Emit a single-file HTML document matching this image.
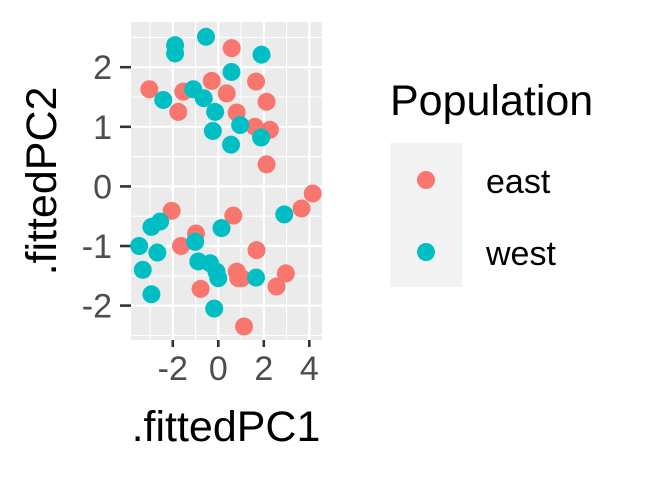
<!DOCTYPE html>
<html><head><meta charset="utf-8"><style>
body{margin:0;background:#fff}
svg text{font-family:"Liberation Sans",sans-serif}
</style></head><body>
<svg id="chart" width="648" height="476">
<rect x="131" y="22" width="191" height="318" fill="#ebebeb"/>
<g id="grid"></g><g id="axes"></g><g id="pts"></g>
<text x="226" y="441" text-anchor="middle" font-size="43" fill="#000">.fittedPC1</text>
<text transform="translate(56,181) rotate(-90)" text-anchor="middle" font-size="43" fill="#000">.fittedPC2</text>
<g>
<text x="390" y="115" font-size="43">Population</text>
<rect x="390" y="143" width="72" height="144" fill="#f2f2f2"/>
<circle cx="426" cy="180" r="9" fill="#F8766D"/>
<circle cx="426" cy="252" r="9" fill="#00BFC4"/>
<text x="486" y="193" font-size="34">east</text>
<text x="486" y="265" font-size="34">west</text>
</g>
</svg>
<script>
const eastX=[0.59,-3.03,-1.54,-1.76,-0.29,0.37,1.66,2.12,0.81,1.61,2.27,2.12,4.15,3.66,-2.05,0.66,-0.98,-1.64,1.68,0.81,1.03,0.88,2.97,2.56,-0.78,1.13];
const eastY=[2.32,1.63,1.59,1.25,1.77,1.56,1.76,1.42,1.24,1.00,0.95,0.37,-0.12,-0.37,-0.41,-0.49,-0.79,-1.00,-1.07,-1.43,-1.54,-1.54,-1.46,-1.68,-1.72,-2.35];
const westX=[-1.9,-1.9,-0.54,1.9,0.58,-1.1,-2.42,-0.64,-0.14,0.96,-0.24,0.56,1.88,2.9,0.14,-2.56,-2.94,-3.48,-2.68,-3.32,-2.94,-1.02,-0.88,-0.36,-0.08,0,1.66,-0.18];
const westY=[2.37,2.23,2.51,2.21,1.92,1.63,1.45,1.48,1.25,1.03,0.93,0.70,0.82,-0.47,-0.70,-0.59,-0.68,-1.00,-1.11,-1.40,-1.81,-0.93,-1.26,-1.29,-1.43,-1.54,-1.53,-2.05];
const xTicks=[-2,0,2,4];
const yTicks=[-2,-1,0,1,2];
const NS='http://www.w3.org/2000/svg';
const sx=v=>218.3+v*22.75, sy=v=>186.4-v*59.6;
function mk(tag,attrs,parent){const e=document.createElementNS(NS,tag);for(const k in attrs)e.setAttribute(k,attrs[k]);document.getElementById(parent).appendChild(e);return e;}
for(const v of [-3,-1,1,3]){const l=mk('line',{x1:sx(v),x2:sx(v),y1:22,y2:340,stroke:'#fff','stroke-width':1.1},'grid');

}
for(const v of [-2.5,-1.5,-0.5,0.5,1.5,2.5]){const l=mk('line',{x1:131,x2:322,y1:sy(v),y2:sy(v),stroke:'#fff','stroke-width':1.1},'grid');

}
for(const v of xTicks){const l=mk('line',{x1:sx(v),x2:sx(v),y1:22,y2:340,stroke:'#fff','stroke-width':2.2},'grid');


const t=mk('line',{x1:sx(v),x2:sx(v),y1:340,y2:347,stroke:'#333','stroke-width':2.6},'axes');


const tx=mk('text',{x:sx(v),y:380,'text-anchor':'middle','font-size':34,fill:'#4d4d4d'},'axes');tx.textContent=v;

}
for(const v of yTicks){const l=mk('line',{x1:131,x2:322,y1:sy(v),y2:sy(v),stroke:'#fff','stroke-width':2.2},'grid');


const t=mk('line',{x1:120,x2:131,y1:sy(v),y2:sy(v),stroke:'#333','stroke-width':2.6},'axes');


const tx=mk('text',{x:112,y:sy(v)+12,'text-anchor':'end','font-size':34,fill:'#4d4d4d'},'axes');tx.textContent=v;

}
eastX.forEach((v,i)=>{const c=mk('circle',{cx:sx(v),cy:sy(eastY[i]),r:9,fill:'#F8766D'},'pts');

});
westX.forEach((v,i)=>{const c=mk('circle',{cx:sx(v),cy:sy(westY[i]),r:9,fill:'#00BFC4'},'pts');

});
</script>
</body></html>
